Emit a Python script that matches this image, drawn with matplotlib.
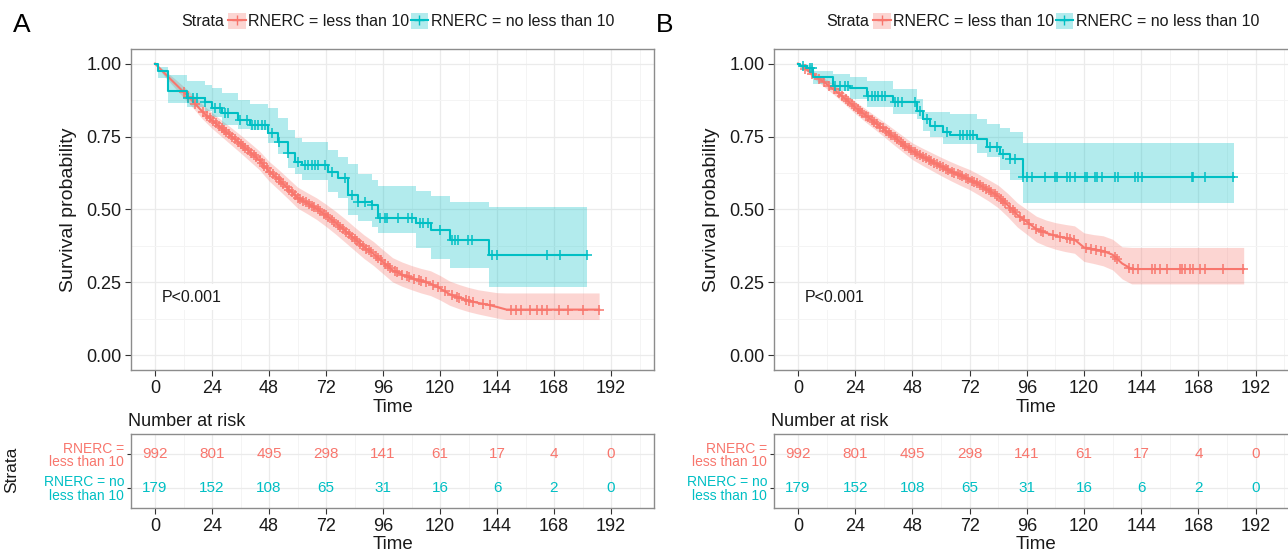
import matplotlib.pyplot as plt
import numpy as np
from matplotlib.patches import Patch
from matplotlib.lines import Line2D

plt.rcParams['font.family'] = ['Liberation Sans', 'DejaVu Sans']

RED = '#F8766D'
TEAL = '#00BFC4'

strata_labels = ['RNERC = less than 10', 'RNERC = no less than 10']
table_labels = ['RNERC =\nless than 10', 'RNERC = no\nless than 10']
time_breaks = [0, 24, 48, 72, 96, 120, 144, 168, 192]
risk_low = [992, 801, 495, 298, 141, 61, 17, 4, 0]
risk_high = [179, 152, 108, 65, 31, 16, 6, 2, 0]

# ---- panel A, RNERC < 10 (many events -> read as a smooth curve)
a_low_t = [0, 4, 8, 12, 16, 20, 24, 28, 32, 36, 40, 44, 48, 52, 56, 60, 64, 68, 72, 76, 80, 84, 88, 92,
           96, 100, 104, 108, 112, 116, 120, 124, 128, 132, 136, 140, 144, 148, 187]
a_low_s = [1.0, 0.967, 0.935, 0.903, 0.87, 0.835, 0.805, 0.778, 0.752, 0.725, 0.697, 0.668, 0.632, 0.603,
           0.572, 0.541, 0.522, 0.503, 0.48, 0.455, 0.428, 0.4, 0.372, 0.348, 0.32, 0.292, 0.277, 0.265,
           0.255, 0.246, 0.23, 0.21, 0.198, 0.188, 0.18, 0.174, 0.166, 0.157, 0.157]
a_low_up = [1.0, 0.977, 0.95, 0.922, 0.892, 0.86, 0.832, 0.806, 0.781, 0.755, 0.728, 0.7, 0.665, 0.637,
            0.607, 0.577, 0.558, 0.54, 0.518, 0.494, 0.468, 0.44, 0.413, 0.39, 0.362, 0.335, 0.32, 0.308,
            0.298, 0.29, 0.274, 0.255, 0.243, 0.233, 0.225, 0.22, 0.215, 0.214, 0.214]
a_low_lo = [1.0, 0.956, 0.92, 0.884, 0.848, 0.81, 0.778, 0.75, 0.722, 0.694, 0.665, 0.636, 0.598, 0.568,
            0.537, 0.505, 0.486, 0.466, 0.442, 0.416, 0.388, 0.36, 0.332, 0.308, 0.28, 0.252, 0.237, 0.225,
            0.214, 0.205, 0.19, 0.172, 0.16, 0.15, 0.142, 0.135, 0.128, 0.123, 0.123]
a_low_cens = [12, 14, 17, 20, 22, 23, 24.5, 25.5, 27, 28, 29, 30, 31, 32.5, 33.5, 35, 36, 37, 38, 39, 40.5,
              41.5, 42.5, 44, 45, 46, 47, 48.5, 49.5, 51, 52, 53, 54, 55.5, 56.5, 57.5, 59, 60, 61, 62.5,
              63.5, 65, 66, 67, 68.5, 69.5, 71, 72, 73, 74.5, 75.5, 77, 78, 79, 80.5, 81.5, 83, 84, 85,
              86.5, 87.5, 89, 90, 91, 93, 94, 95, 97, 98, 99, 101, 102, 104, 106, 107, 109, 111, 112, 114,
              117, 119, 122, 125, 127, 128, 131, 132, 134, 138, 141, 150, 152, 154, 158, 161, 163, 165,
              170, 174, 180, 187]

# ---- panel A, RNERC >= 10
a_high_t = [0, 1.4, 5.6, 13.3, 21, 23.9, 28.1, 35.1, 40, 47.7, 51.9, 56.1, 59, 61.8, 73, 77.2, 81.4, 85.6,
            91.2, 94, 110, 116, 124.2, 140.8, 182]
a_high_s = [1.0, 0.973, 0.905, 0.882, 0.87, 0.848, 0.83, 0.807, 0.79, 0.762, 0.733, 0.693, 0.664, 0.651,
            0.63, 0.607, 0.55, 0.527, 0.515, 0.472, 0.455, 0.43, 0.396, 0.345, 0.345]
a_high_up = [1.0, 0.99, 0.96, 0.94, 0.925, 0.915, 0.9, 0.876, 0.862, 0.848, 0.814, 0.773, 0.745, 0.733,
             0.705, 0.68, 0.655, 0.62, 0.6, 0.58, 0.563, 0.546, 0.527, 0.507, 0.507]
a_high_lo = [1.0, 0.95, 0.865, 0.85, 0.836, 0.818, 0.79, 0.775, 0.773, 0.727, 0.69, 0.642, 0.62, 0.6,
             0.56, 0.54, 0.48, 0.46, 0.44, 0.418, 0.367, 0.332, 0.298, 0.235, 0.235]
a_high_cens = [14, 16.1, 17.5, 21, 25.3, 27.4, 29.5, 30.9, 35.8, 38.6, 40.7, 42.1, 43.5, 44.9, 46.3, 49.1,
               52, 56.2, 60.4, 63.2, 64.6, 66, 67.4, 68.8, 71.6, 74.4, 80, 82.8, 85.6, 88.4, 91.2, 94.7,
               96.8, 97.5, 102.5, 106.7, 108.1, 111.6, 113, 115.1, 120, 124.9, 126.3, 127.7, 131.9,
               133.3, 141.8, 143.9, 164.9, 170.5, 181.8]

# ---- panel B, RNERC < 10
b_low_t = [0, 4, 8, 12, 16, 20, 24, 28, 32, 36, 40, 44, 48, 52, 56, 60, 64, 68, 72, 76, 80, 84, 88, 92,
           96, 100, 104, 108, 112, 116, 120, 124, 128, 132, 136, 140, 187]
b_low_s = [1.0, 0.977, 0.953, 0.93, 0.905, 0.878, 0.85, 0.825, 0.8, 0.775, 0.75, 0.725, 0.7, 0.682,
           0.665, 0.648, 0.632, 0.617, 0.603, 0.585, 0.566, 0.545, 0.515, 0.482, 0.458, 0.433, 0.42,
           0.41, 0.403, 0.397, 0.37, 0.364, 0.358, 0.345, 0.315, 0.296, 0.296]
b_low_up = [1.0, 0.985, 0.965, 0.945, 0.922, 0.897, 0.87, 0.847, 0.823, 0.8, 0.776, 0.752, 0.728, 0.711,
            0.695, 0.679, 0.664, 0.65, 0.637, 0.62, 0.602, 0.583, 0.555, 0.523, 0.5, 0.477, 0.464, 0.455,
            0.449, 0.444, 0.42, 0.414, 0.41, 0.398, 0.372, 0.37, 0.37]
b_low_lo = [1.0, 0.968, 0.94, 0.914, 0.887, 0.858, 0.829, 0.802, 0.776, 0.75, 0.723, 0.697, 0.671, 0.652,
            0.634, 0.616, 0.599, 0.583, 0.568, 0.549, 0.529, 0.506, 0.475, 0.44, 0.415, 0.389, 0.375,
            0.364, 0.356, 0.35, 0.322, 0.315, 0.307, 0.293, 0.262, 0.245, 0.245]
b_low_cens = [3, 6, 9, 11, 13, 15, 17, 18.5, 20, 21, 22.5, 23.5, 25, 26, 27, 28.5, 29.5, 31, 32, 33, 34.5,
              35.5, 37, 38, 39, 40.5, 41.5, 43, 44, 45, 46.5, 47.5, 49, 50, 51, 52.5, 53.5, 55, 56, 57,
              58.5, 59.5, 61, 62, 63, 64.5, 65.5, 67, 68, 69, 70.5, 71.5, 73, 74, 75, 76.5, 77.5, 79, 80,
              81, 82.5, 83.5, 85, 86, 87, 89, 90, 91, 93, 95, 97, 100, 102, 103, 107, 110, 113, 114, 116,
              121, 123, 125, 127, 129, 133, 134, 139, 140.7, 142.8, 148.4, 149.8, 151.9, 154.7, 160.3,
              161, 162.4, 164.5, 165.9, 168.7, 170.8, 178.5, 186.9]

# ---- panel B, RNERC >= 10
b_high_t = [0, 0.8, 3.6, 6.4, 14.8, 21.8, 28.8, 40, 49.8, 52.6, 55.4, 61, 63.8, 75, 79.2, 84.8, 89, 94.6, 183]
b_high_s = [1.0, 0.993, 0.985, 0.953, 0.924, 0.918, 0.89, 0.867, 0.838, 0.81, 0.787, 0.764, 0.756, 0.741,
            0.713, 0.69, 0.673, 0.612, 0.612]
b_high_up = [1.0, 1.0, 0.995, 0.975, 0.964, 0.955, 0.941, 0.912, 0.878, 0.833, 0.833, 0.833, 0.827, 0.81,
             0.793, 0.78, 0.764, 0.728, 0.728]
b_high_lo = [1.0, 0.985, 0.97, 0.93, 0.907, 0.88, 0.85, 0.827, 0.81, 0.77, 0.747, 0.724, 0.724, 0.695,
             0.679, 0.634, 0.6, 0.521, 0.521]
b_high_cens = [2.2, 5, 5.7, 15.5, 17.6, 19.7, 21.1, 29.5, 30.9, 32.3, 33.7, 35.1, 36.5, 40.7, 42.1, 43.5,
               49.1, 51.2, 54, 57.5, 62.4, 68, 69.4, 70.8, 72.2, 73.6, 80.6, 83.4, 86.2, 89, 91.1, 94.6,
               96, 98, 103.7, 107.8, 108.5, 112.7, 114.1, 116.2, 120.4, 121.1, 124.6, 125.3, 127.4, 133,
               134.4, 141.4, 142.8, 144.2, 165.2, 165.9, 170.8, 182.7]


W, H = 1288, 551


def fig_box(left, top, right, bottom):
    return [left / W, 1 - bottom / H, (right - left) / W, (bottom - top) / H]


def style_grid(ax):
    ax.set_xlim(-10, 210)
    ax.set_xticks(time_breaks)
    ax.set_xticks(np.arange(12, 210, 24), minor=True)
    ax.grid(which='major', color='#EBEBEB', lw=0.9)
    ax.grid(which='minor', color='#F4F4F4', lw=0.7)
    ax.set_axisbelow(True)
    for sp in ax.spines.values():
        sp.set_color('#8C8C8C')
        sp.set_linewidth(1.0)
    ax.tick_params(which='major', length=4, width=0.8, color='#333333', labelsize=13,
                   labelcolor='#1A1A1A', pad=3)
    ax.tick_params(which='minor', length=0)


def draw_km(ax, t, s, up, lo, cens, color, smooth):
    t = np.asarray(t)
    s = np.asarray(s)
    if smooth:
        # dense event curve: small steps blur into a line at this size
        ax.fill_between(t, lo, up, color=color, alpha=0.3, lw=0)
        ax.plot(t, s, color=color, lw=1.5)
        ys = np.interp(cens, t, s)
    else:
        ax.fill_between(t, lo, up, step='post', color=color, alpha=0.3, lw=0)
        ax.plot(t, s, drawstyle='steps-post', color=color, lw=1.5)
        ys = s[np.searchsorted(t, cens, side='right') - 1]
    ax.plot(cens, ys, ls='none', marker='+', ms=7, mew=1.1, color=color)


def panel(letter, x_left, x_right, curves, strata_x):
    ax = fig.add_axes(fig_box(x_left, 49, x_right, 370))
    style_grid(ax)
    for c in curves:
        draw_km(ax, *c)
    ax.set_ylim(-0.05, 1.05)
    ax.set_yticks([0, 0.25, 0.5, 0.75, 1.0])
    ax.set_yticklabels(['0.00', '0.25', '0.50', '0.75', '1.00'])
    ax.set_yticks([0.125, 0.375, 0.625, 0.875], minor=True)
    ax.set_xlabel('Time', fontsize=13.5, color='#1A1A1A', labelpad=2)
    ax.set_ylabel('Survival probability', fontsize=14, color='#1A1A1A', labelpad=7)
    ax.text(3, 0.2, 'P<0.001', fontsize=11.5, color='#1A1A1A', va='center',
            bbox=dict(fc='white', ec='none', pad=4))

    handles = [(Patch(fc=RED, alpha=0.3, lw=0), Line2D([], [], color=RED, marker='+', lw=1.5, ms=7)),
               (Patch(fc=TEAL, alpha=0.3, lw=0), Line2D([], [], color=TEAL, marker='+', lw=1.5, ms=7))]
    ax.legend(handles, strata_labels, ncol=2, frameon=False, fontsize=11.5,
              loc='center left', bbox_to_anchor=((strata_x + 47) / W, 1 - 21 / H),
              bbox_transform=fig.transFigure, handlelength=1.1, handleheight=1.2,
              handletextpad=0.15, columnspacing=0.1, borderpad=0, borderaxespad=0,
              labelcolor='#1A1A1A')
    fig.text(strata_x / W, 1 - 21 / H, 'Strata', fontsize=11.5, color='#1A1A1A', va='center')
    fig.text((x_left - 118) / W, 1 - 25 / H, letter, fontsize=19, va='center')

    # number at risk table
    tb = fig.add_axes(fig_box(x_left, 434, x_right, 508))
    style_grid(tb)
    tb.set_ylim(0.4, 2.6)
    tb.set_yticks([2, 1])
    tb.set_yticklabels(table_labels, fontsize=10, linespacing=0.95)
    for lab, col in zip(tb.get_yticklabels(), [RED, TEAL]):
        lab.set_color(col)
    tb.tick_params(axis='y', length=3, pad=2)
    tb.grid(axis='y', which='minor', visible=False)
    for tm, n_low, n_high in zip(time_breaks, risk_low, risk_high):
        tb.text(tm, 2, str(n_low), color=RED, fontsize=11, ha='center', va='center')
        tb.text(tm, 1, str(n_high), color=TEAL, fontsize=11, ha='center', va='center')
    tb.set_xlabel('Time', fontsize=13.5, color='#1A1A1A', labelpad=1)
    fig.text((x_left - 3) / W, 1 - 421 / H, 'Number at risk', fontsize=13, color='#1A1A1A', va='center')
    return ax, tb


fig = plt.figure(figsize=(W / 100, H / 100), dpi=100)

panel('A', 131.25, 653.75,
      [(a_low_t, a_low_s, a_low_up, a_low_lo, a_low_cens, RED, True),
       (a_high_t, a_high_s, a_high_up, a_high_lo, a_high_cens, TEAL, False)], 181)
panel('B', 774.2, 1298.5,
      [(b_low_t, b_low_s, b_low_up, b_low_lo, b_low_cens, RED, True),
       (b_high_t, b_high_s, b_high_up, b_high_lo, b_high_cens, TEAL, False)], 826)

fig.text(12 / W, 1 - 470 / H, 'Strata', fontsize=12.5, rotation=90, va='center', ha='center',
         color='#1A1A1A')

fig.savefig('out.png', dpi=100)
